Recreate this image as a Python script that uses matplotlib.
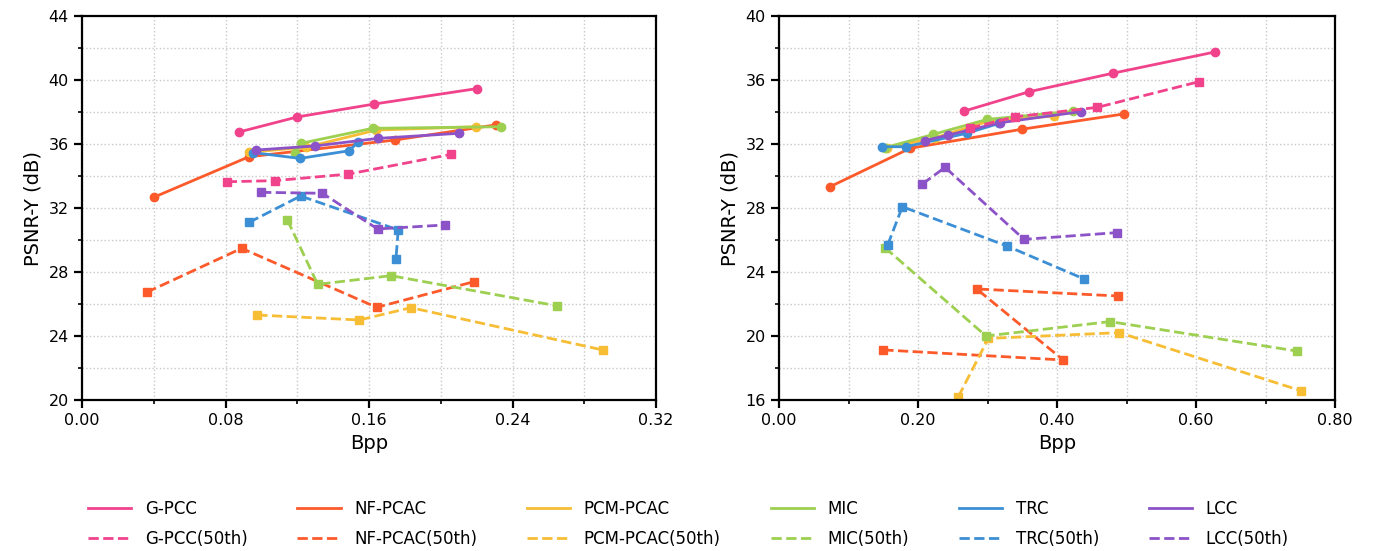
import matplotlib
matplotlib.use('Agg')
import matplotlib.pyplot as plt
from matplotlib.ticker import MultipleLocator
from matplotlib.lines import Line2D

methods = ['G-PCC', 'NF-PCAC', 'PCM-PCAC', 'MIC', 'TRC', 'LCC']
colors = ['#f0438c', '#fc5a2a', '#f6bd35', '#9dcf50', '#3c8fd5', '#8c52c7']

# left panel: solid curves (bpp, psnr)
left_bpp = [
    [0.0875, 0.120, 0.163, 0.220],
    [0.040, 0.093, 0.1745, 0.231],
    [0.093, 0.125, 0.164, 0.2197],
    [0.119, 0.122, 0.162, 0.2334],
    [0.0955, 0.1215, 0.149, 0.154],
    [0.0968, 0.130, 0.1648, 0.2103],
]
left_psnr = [
    [36.75, 37.69, 38.50, 39.46],
    [32.67, 35.20, 36.25, 37.20],
    [35.48, 35.80, 36.87, 37.08],
    [35.42, 36.04, 36.98, 37.08],
    [35.46, 35.10, 35.58, 36.14],
    [35.62, 35.88, 36.35, 36.67],
]
# left panel: 50th curves
left_bpp50 = [
    [0.0807, 0.1076, 0.1485, 0.2057],
    [0.036, 0.089, 0.1643, 0.2187],
    [0.0977, 0.1546, 0.1834, 0.2906],
    [0.1145, 0.1314, 0.1723, 0.2646],
    [0.0931, 0.1219, 0.1763, 0.175],
    [0.0998, 0.134, 0.1648, 0.2024],
]
left_psnr50 = [
    [33.64, 33.71, 34.12, 35.35],
    [26.73, 29.48, 25.79, 27.40],
    [25.31, 25.00, 25.77, 23.12],
    [31.25, 27.23, 27.77, 25.89],
    [31.10, 32.75, 30.63, 28.79],
    [32.98, 32.92, 30.69, 30.94],
]

# right panel: solid curves
right_bpp = [
    [0.2666, 0.3602, 0.480, 0.627],
    [0.0734, 0.1885, 0.349, 0.4968],
    [0.155, 0.225, 0.300, 0.395],
    [0.1525, 0.222, 0.2997, 0.4235],
    [0.1477, 0.1827, 0.270, 0.317],
    [0.210, 0.2436, 0.318, 0.434],
]
right_psnr = [
    [34.06, 35.27, 36.42, 37.75],
    [29.33, 31.73, 32.92, 33.88],
    [31.75, 32.40, 33.40, 33.75],
    [31.77, 32.60, 33.54, 34.05],
    [31.83, 31.83, 32.67, 33.29],
    [32.21, 32.56, 33.33, 34.02],
]
# right panel: 50th curves
right_bpp50 = [
    [0.275, 0.3396, 0.458, 0.6048],
    [0.150, 0.409, 0.2844, 0.488],
    [0.258, 0.3012, 0.4897, 0.751],
    [0.1525, 0.2978, 0.4763, 0.745],
    [0.1564, 0.1775, 0.3276, 0.4393],
    [0.2062, 0.239, 0.3525, 0.4858],
]
right_psnr50 = [
    [33.00, 33.70, 34.29, 35.90],
    [19.13, 18.50, 22.94, 22.50],
    [16.20, 19.85, 20.21, 16.58],
    [25.52, 20.00, 20.90, 19.06],
    [25.69, 28.08, 25.63, 23.56],
    [29.50, 30.54, 26.04, 26.46],
]

plt.rcParams['font.family'] = 'DejaVu Sans'

fig = plt.figure(figsize=(13.77, 5.51), dpi=100)
ax1 = fig.add_axes([82 / 1377, 151 / 551, 574 / 1377, 384 / 551])
ax2 = fig.add_axes([779 / 1377, 151 / 551, 556 / 1377, 384 / 551])


def draw(ax, bpp, psnr, bpp50, psnr50):
    for i in range(len(methods)):
        ax.plot(bpp[i], psnr[i], '-', color=colors[i], lw=2, marker='o', ms=6)
    for i in range(len(methods)):
        ax.plot(bpp50[i], psnr50[i], '--', color=colors[i], lw=2, marker='s', ms=6)


def style(ax, xlim, ylim, xmaj, ymaj, fmt):
    ax.set_xlim(xlim)
    ax.set_ylim(ylim)
    ax.xaxis.set_major_locator(MultipleLocator(xmaj))
    ax.xaxis.set_minor_locator(MultipleLocator(xmaj / 2))
    ax.yaxis.set_major_locator(MultipleLocator(ymaj))
    ax.yaxis.set_minor_locator(MultipleLocator(ymaj / 2))
    ax.xaxis.set_major_formatter(plt.FormatStrFormatter(fmt))
    ax.grid(True, which='both', ls=':', color='#c8c8c8', lw=1)
    ax.set_axisbelow(True)
    for s in ax.spines.values():
        s.set_linewidth(1.6)
    ax.tick_params(which='major', length=6, width=1.6, labelsize=11.5)
    ax.tick_params(which='minor', length=3, width=1.2)
    ax.set_xlabel('Bpp', fontsize=14)
    ax.set_ylabel('PSNR-Y (dB)', fontsize=14)


draw(ax1, left_bpp, left_psnr, left_bpp50, left_psnr50)
draw(ax2, right_bpp, right_psnr, right_bpp50, right_psnr50)
style(ax1, (0, 0.32), (20, 44), 0.08, 4, '%.2f')
style(ax2, (0, 0.80), (16, 40), 0.2, 4, '%.2f')

handles = []
labels = []
for i, m in enumerate(methods):
    handles.append(Line2D([], [], color=colors[i], lw=2, ls='-'))
    labels.append(m)
    handles.append(Line2D([], [], color=colors[i], lw=2, ls='--'))
    labels.append(m + '(50th)')

fig.legend(handles, labels, loc='lower center', bbox_to_anchor=(0.5, -0.022),
           ncol=6, frameon=False, fontsize=12, handlelength=2.6,
           columnspacing=3.0, labelspacing=0.75)

fig.savefig('out.png', dpi=100)
